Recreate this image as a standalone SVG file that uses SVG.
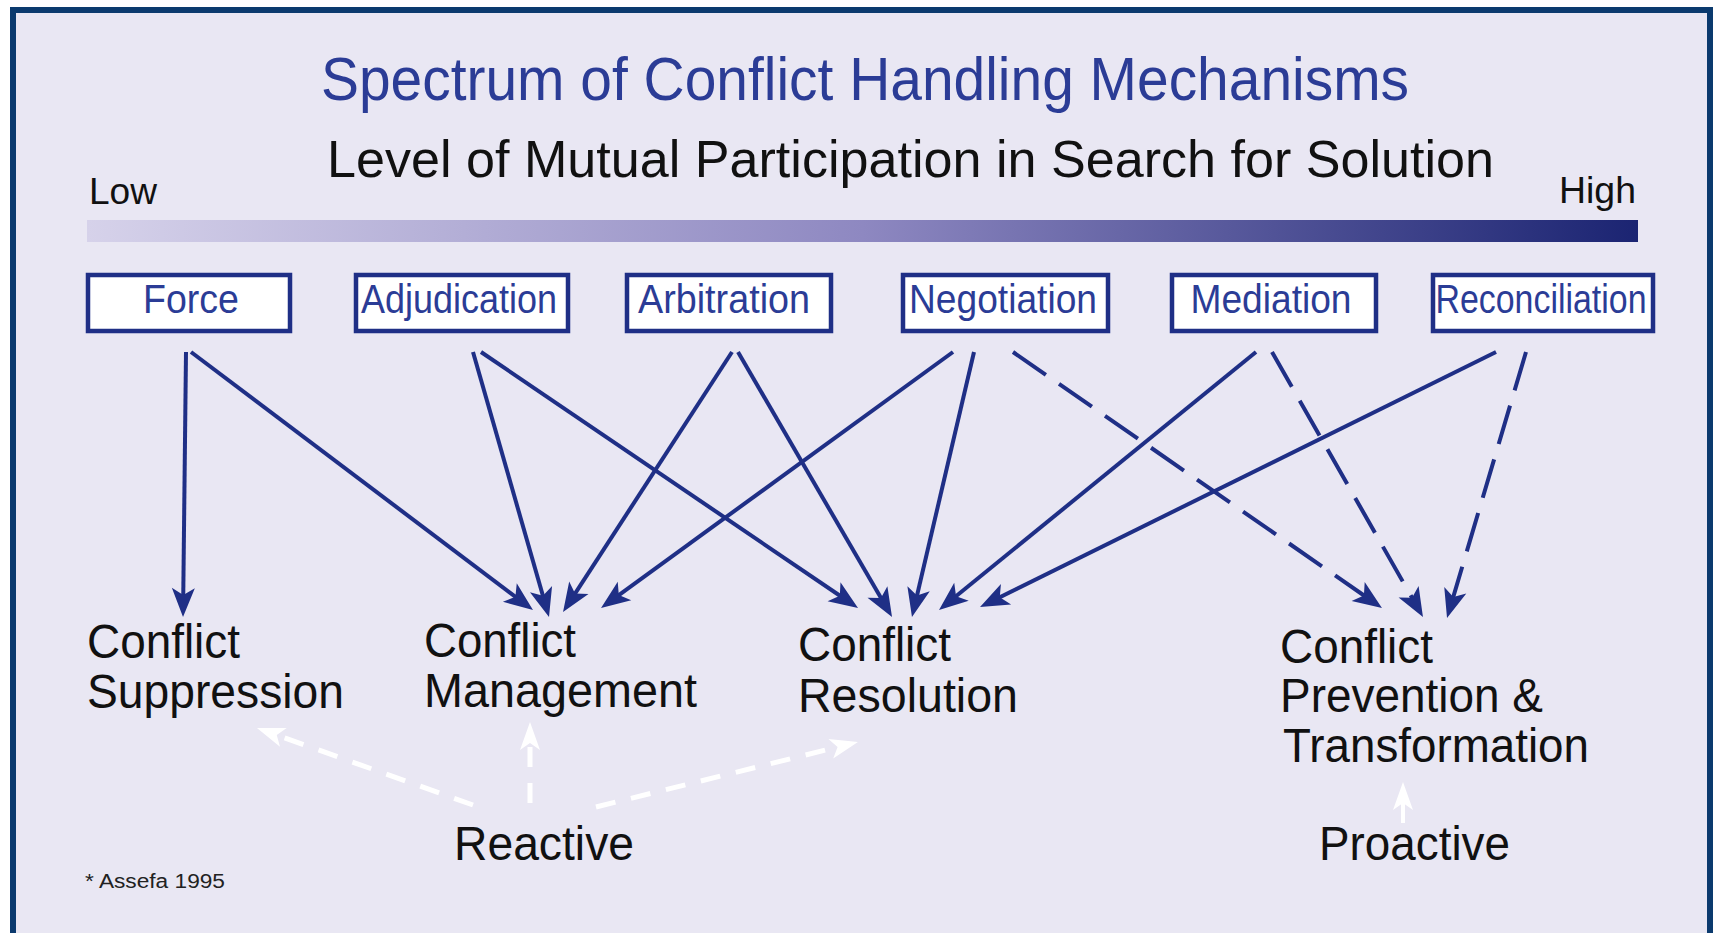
<svg xmlns="http://www.w3.org/2000/svg" width="1714" height="933" viewBox="0 0 1714 933">
  <defs>
    <linearGradient id="bar" x1="0" y1="0" x2="1" y2="0">
      <stop offset="0" stop-color="#d6d2ea"/>
      <stop offset="0.5" stop-color="#8e88c1"/>
      <stop offset="1" stop-color="#1b2472"/>
    </linearGradient>
    <marker id="ah" viewBox="-38 -12 39 24" refX="-8" refY="0" markerWidth="39" markerHeight="24" markerUnits="userSpaceOnUse" orient="auto">
      <path d="M0,0 L-29,-11.5 L-22,0 L-29,11.5 Z" fill="#1f2f86"/>
    </marker>
    <marker id="wh" viewBox="-38 -12 39 24" refX="-8" refY="0" markerWidth="39" markerHeight="24" markerUnits="userSpaceOnUse" orient="auto">
      <path d="M0,0 L-28,-10 L-21,0 L-28,10 Z" fill="#ffffff"/>
    </marker>
    <style>
      .box { fill: #ffffff; stroke: #1f2f86; stroke-width: 4.5; }
      .boxtxt { font-family: "Liberation Sans", Arial, sans-serif; font-size: 40px; fill: #2b3c96; text-anchor: middle; }
      .lbl { font-family: "Liberation Sans", Arial, sans-serif; font-size: 49px; fill: #111111; }
      .sol { fill: none; stroke: #1f2f86; stroke-width: 4; marker-end: url(#ah); }
      .dsh { fill: none; stroke: #1f2f86; stroke-width: 4; stroke-dasharray: 40 16; marker-end: url(#ah); }
      .wd { fill: none; stroke: #ffffff; stroke-width: 5; stroke-dasharray: 20 16; marker-end: url(#wh); }
      .ws { fill: none; stroke: #ffffff; stroke-width: 4; marker-end: url(#wh); }
    </style>
  </defs>

  <rect x="0" y="0" width="1714" height="933" fill="#ffffff"/>
  <rect x="13" y="10" width="1697" height="926" fill="#e9e7f3" stroke="#0b3a6e" stroke-width="6"/>

  <g id="header">
    <text x="321" y="100" font-family="Liberation Sans, Arial, sans-serif" font-size="62" fill="#2b3c96" textLength="1088" lengthAdjust="spacingAndGlyphs">Spectrum of Conflict Handling Mechanisms</text>
    <text x="327" y="177" font-family="Liberation Sans, Arial, sans-serif" font-size="52" fill="#111111" textLength="1167" lengthAdjust="spacingAndGlyphs">Level of Mutual Participation in Search for Solution</text>
    <text x="89" y="204" font-family="Liberation Sans, Arial, sans-serif" font-size="37" fill="#111111" textLength="68" lengthAdjust="spacingAndGlyphs">Low</text>
    <text x="1559" y="203" font-family="Liberation Sans, Arial, sans-serif" font-size="37" fill="#111111" textLength="77" lengthAdjust="spacingAndGlyphs">High</text>
    <rect x="87" y="220" width="1551" height="22" fill="url(#bar)"/>
  </g>

  <g id="force"><rect class="box" x="88" y="275" width="202" height="56"/><text class="boxtxt" x="191" y="313" textLength="96" lengthAdjust="spacingAndGlyphs">Force</text></g>
  <g id="adjudication"><rect class="box" x="356" y="275" width="212" height="56"/><text class="boxtxt" x="459" y="313" textLength="196" lengthAdjust="spacingAndGlyphs">Adjudication</text></g>
  <g id="arbitration"><rect class="box" x="627" y="275" width="204" height="56"/><text class="boxtxt" x="724" y="313" textLength="172" lengthAdjust="spacingAndGlyphs">Arbitration</text></g>
  <g id="negotiation"><rect class="box" x="903" y="275" width="205" height="56"/><text class="boxtxt" x="1003" y="313" textLength="188" lengthAdjust="spacingAndGlyphs">Negotiation</text></g>
  <g id="mediation"><rect class="box" x="1172" y="275" width="204" height="56"/><text class="boxtxt" x="1271" y="313" textLength="161" lengthAdjust="spacingAndGlyphs">Mediation</text></g>
  <g id="reconciliation"><rect class="box" x="1433" y="275" width="220" height="56"/><text class="boxtxt" x="1541" y="313" textLength="211" lengthAdjust="spacingAndGlyphs">Reconciliation</text></g>

  <g id="connectors">
    <line class="sol" x1="186" y1="352" x2="183.1" y2="609"/>
    <line class="sol" x1="191" y1="352" x2="526.6" y2="605.2"/>
    <line class="sol" x1="473" y1="352" x2="546.8" y2="609.3"/>
    <line class="sol" x1="481" y1="352" x2="851.4" y2="603.5"/>
    <line class="sol" x1="732" y1="352" x2="567.4" y2="605.3"/>
    <line class="sol" x1="738" y1="352" x2="888" y2="610.1"/>
    <line class="sol" x1="953" y1="352" x2="607.5" y2="603.3"/>
    <line class="sol" x1="974" y1="352" x2="913.8" y2="609.2"/>
    <line class="dsh" x1="1013" y1="352" x2="1375.4" y2="603.4"/>
    <line class="sol" x1="1256" y1="352" x2="945.2" y2="605"/>
    <line class="dsh" x1="1272" y1="352" x2="1419" y2="610"/>
    <line class="sol" x1="1496" y1="352" x2="987.2" y2="603.5"/>
    <line class="dsh" x1="1526" y1="352" x2="1449.3" y2="610.3"/>
    <line class="wd" x1="473" y1="805" x2="264.5" y2="730.7"/>
    <line class="wd" x1="530" y1="803" x2="530" y2="730"/>
    <line class="wd" x1="596" y1="807" x2="850.2" y2="743.9"/>
    <line class="ws" x1="1403" y1="823" x2="1403" y2="790"/>
  </g>

  <g id="suppression">
    <text class="lbl" x="87" y="658" textLength="153" lengthAdjust="spacingAndGlyphs">Conflict</text>
    <text class="lbl" x="87" y="708" textLength="257" lengthAdjust="spacingAndGlyphs">Suppression</text>
  </g>
  <g id="management">
    <text class="lbl" x="424" y="657" textLength="152" lengthAdjust="spacingAndGlyphs">Conflict</text>
    <text class="lbl" x="424" y="707" textLength="273" lengthAdjust="spacingAndGlyphs">Management</text>
  </g>
  <g id="resolution">
    <text class="lbl" x="798" y="661" textLength="153" lengthAdjust="spacingAndGlyphs">Conflict</text>
    <text class="lbl" x="798" y="712" textLength="220" lengthAdjust="spacingAndGlyphs">Resolution</text>
  </g>
  <g id="prevention">
    <text class="lbl" x="1280" y="663" textLength="153" lengthAdjust="spacingAndGlyphs">Conflict</text>
    <text class="lbl" x="1280" y="712" textLength="263" lengthAdjust="spacingAndGlyphs">Prevention &amp;</text>
    <text class="lbl" x="1283" y="762" textLength="306" lengthAdjust="spacingAndGlyphs">Transformation</text>
  </g>
  <g id="reactive"><text class="lbl" x="454" y="860" textLength="180" lengthAdjust="spacingAndGlyphs">Reactive</text></g>
  <g id="proactive"><text class="lbl" x="1319" y="860" textLength="191" lengthAdjust="spacingAndGlyphs">Proactive</text></g>
  <g id="footnote"><text x="85" y="888" font-family="Liberation Sans, Arial, sans-serif" font-size="20" fill="#222222" textLength="140" lengthAdjust="spacingAndGlyphs">* Assefa 1995</text></g>
</svg>
